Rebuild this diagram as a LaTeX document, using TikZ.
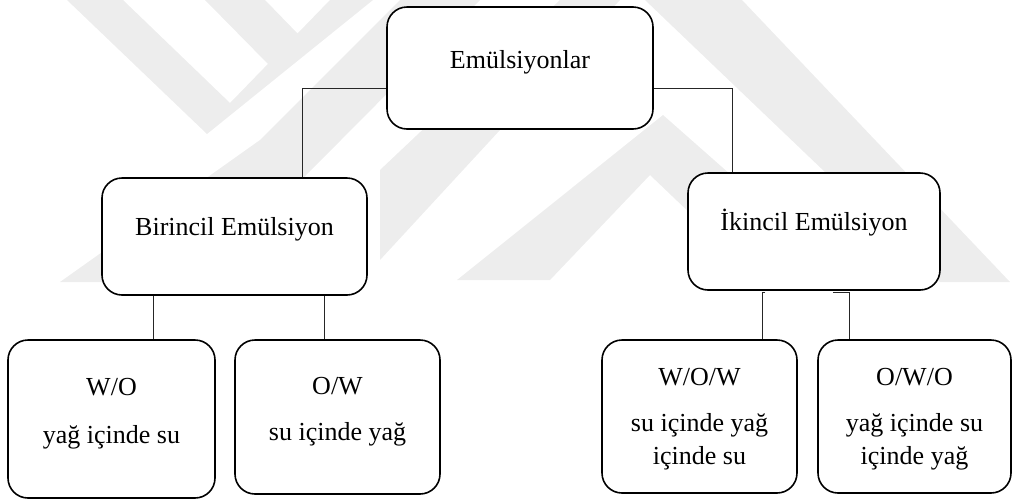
\documentclass[tikz,border=0pt]{standalone}
\usepackage{fontspec}
\setmainfont{Liberation Serif}
\definecolor{wmgray}{RGB}{237,237,237}
\begin{document}
\begin{tikzpicture}[x=1pt,y=-1pt,
  box/.style={draw=black, line width=1.6pt, rounded corners=20pt, fill=white, inner sep=0pt},
  conn/.style={draw=black!85, line width=0.9pt},
  lbl/.style={font=\fontsize{26}{30}\selectfont, anchor=center, inner sep=0pt},
  wm/.style={fill=wmgray, draw=none}]
\useasboundingbox (0,0) rectangle (1012,499);
% watermark (faint background logo)
\fill[wm] (67,0) -- (123,0) -- (230,103) -- (330,0) -- (373,0) -- (207,134) -- cycle;
\fill[wm] (205,0) -- (265,0) -- (300,36) -- (270,66) -- cycle;
\fill[wm] (60,282) -- (200,282) -- (480,0) -- (400,0) -- (260,140) -- cycle;
\fill[wm] (457,280) -- (550,280) -- (650,175) -- (760,280) -- (850,280) -- (663,115) -- cycle;
\fill[wm] (645,0) -- (742,0) -- (1010,282) -- (940,282) -- cycle;
\fill[wm] (560,0) -- (620,0) -- (380,260) -- (380,170) -- cycle;
% boxes
\node[box, minimum width=266pt, minimum height=122pt] (root) at (520,68) {};
\node[lbl] (roott) at (520,62) {Emülsiyonlar};
\node[box, minimum width=265pt, minimum height=117pt] (b1) at (234.5,236.5) {};
\node[lbl] (b1t) at (234.5,229) {Birincil Emülsiyon};
\node[box, minimum width=252pt, minimum height=117pt] (b2) at (814,231.5) {};
\node[lbl] (b2t) at (814,223) {İkincil Emülsiyon};
\node[box, minimum width=207pt, minimum height=158pt] (c1) at (111.5,419) {};
\node[lbl] (c1a) at (111.5,387) {W/O};
\node[lbl] (c1b) at (111.5,437) {yağ içinde su};
\node[box, minimum width=205pt, minimum height=154pt] (c2) at (337.5,417) {};
\node[lbl] (c2a) at (337.5,386) {O/W};
\node[lbl] (c2b) at (337.5,434) {su içinde yağ};
\node[box, minimum width=195pt, minimum height=153pt] (c3) at (699.5,416.5) {};
\node[lbl] (c3a) at (699.5,377) {W/O/W};
\node[lbl] (c3b) at (699.5,425) {su içinde yağ};
\node[lbl] (c3c) at (699.5,458) {içinde su};
\node[box, minimum width=193pt, minimum height=153pt] (c4) at (914.5,416.5) {};
\node[lbl] (c4a) at (914.5,377) {O/W/O};
\node[lbl] (c4b) at (914.5,425) {yağ içinde su};
\node[lbl] (c4c) at (914.5,458) {içinde yağ};
% connectors
\draw[conn] (root.west |- 0,88) -| (b1.north -| 302,0);
\draw[conn] (root.east |- 0,88) -| (b2.north -| 732,0);
\draw[line width=1.8pt] (733,173) -- (810,173);
\draw[conn] (153,0 |- b1.south) -- (153,0 |- c1.north);
\draw[conn] (324,0 |- b1.south) -- (324,0 |- c2.north);
\draw[conn] (765,292) -- (762,292) -- (762,0 |- c3.north);
\draw[conn] (833,292) -- (849,292) -- (849,0 |- c4.north);
\end{tikzpicture}
\end{document}
